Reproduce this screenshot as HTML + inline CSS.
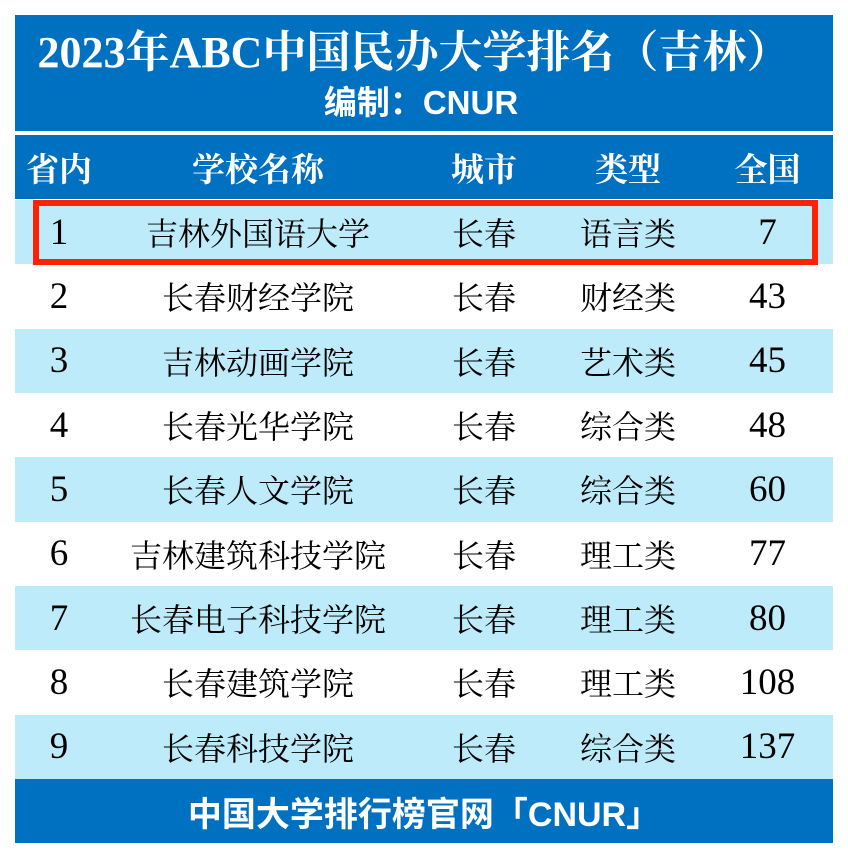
<!DOCTYPE html>
<html><head><meta charset="utf-8"><style>
body{margin:0;width:848px;height:858px;background:#fff;position:relative;overflow:hidden;font-family:"Liberation Serif","Noto Serif CJK SC",serif;}
.abs{position:absolute;}
#title{left:15px;top:15px;width:818px;height:116px;background:#0070C0;color:#fff;}
#t1{position:absolute;left:-10px;width:818px;top:10px;text-align:center;font-size:44px;font-weight:bold;line-height:56px;white-space:nowrap;}
#t2{position:absolute;left:-3px;width:818px;top:68px;text-align:center;font-size:33px;font-weight:bold;line-height:40px;font-family:"Liberation Sans","Noto Sans CJK SC",sans-serif;}
.row{position:absolute;left:15px;width:818px;height:64.3px;}
.c{position:absolute;top:0;height:100%;display:flex;align-items:center;justify-content:center;font-size:32px;color:#000;white-space:nowrap;}
.c.num{font-size:37px;}
.hd .c{color:#fff;font-weight:bold;font-size:33px;}
#foot{left:15px;top:779px;width:818px;height:64px;background:#0070C0;color:#fff;display:flex;align-items:center;justify-content:center;font-size:34px;font-weight:bold;font-family:"Liberation Sans","Noto Sans CJK SC",sans-serif;}
#hl{left:33px;top:200px;width:773px;height:53px;border:6px solid #FF2200;}
</style></head><body>
<div id="title" class="abs">
<div id="t1">2023年ABC中国民办大学排名（吉林）</div>
<div id="t2">编制：CNUR</div>
</div>
<div id="tbl"></div>
<div id="hl" class="abs"></div>
<div id="foot" class="abs">中国大学排行榜官网「CNUR」</div>
<script>
const headers=["省内","学校名称","城市","类型","全国"];
const ranks=[1,2,3,4,5,6,7,8,9];
const names=["吉林外国语大学","长春财经学院","吉林动画学院","长春光华学院","长春人文学院","吉林建筑科技学院","长春电子科技学院","长春建筑学院","长春科技学院"];
const cities=["长春","长春","长春","长春","长春","长春","长春","长春","长春"];
const types=["语言类","财经类","艺术类","综合类","综合类","理工类","理工类","理工类","综合类"];
const national=[7,43,45,48,60,77,80,108,137];
const cols=[[0,88],[88,310],[410,118],[540,146],[690,125]];
const tbl=document.getElementById('tbl');
function mkRow(vals,top,bg,cls,name,isHead){
  const r=document.createElement('div');
  r.className='row '+cls;
  r.style.top=top+'px';r.style.background=bg;
  
  
  vals.forEach((v,i)=>{
    const c=document.createElement('div');
    c.className='c'+(!isHead&&(i===0||i===4)?' num':'');
    c.style.left=cols[i][0]+'px';c.style.width=cols[i][1]+'px';
    c.textContent=v;
    
    
    r.appendChild(c);
  });
  tbl.appendChild(r);
}
mkRow(headers,135,'#0070C0','hd','header-row',true);
ranks.forEach((k,i)=>{
  mkRow([k,names[i],cities[i],types[i],national[i]],200+i*64.33,i%2===0?'#BDEBFA':'#fff','','table-row',false);
});
</script>
</body></html>
